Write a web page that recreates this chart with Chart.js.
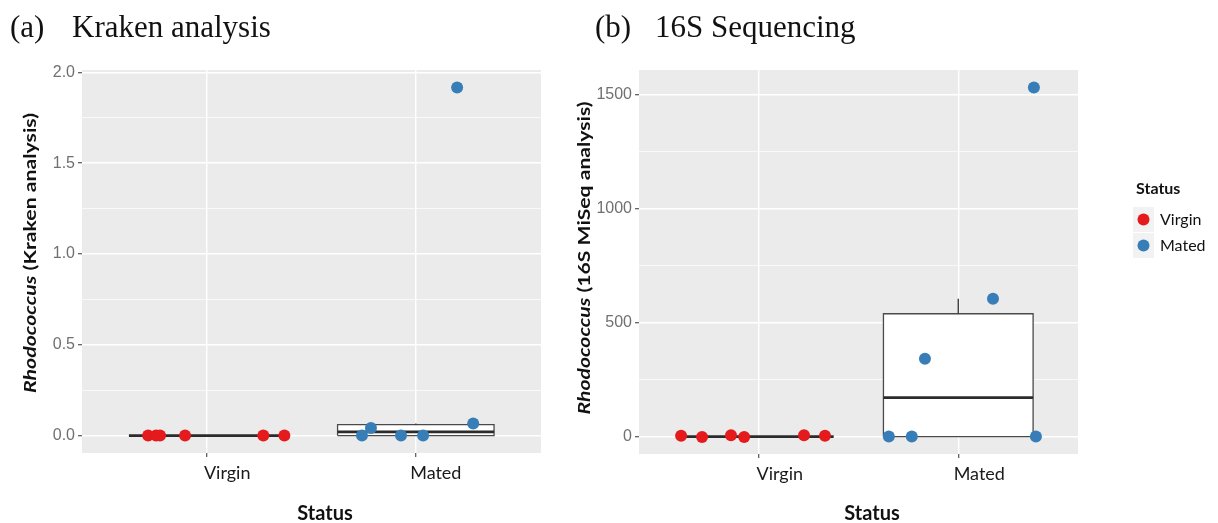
<!DOCTYPE html>
<html>
<head>
<meta charset="utf-8">
<script src="https://cdn.jsdelivr.net/npm/chart.js@4/dist/chart.umd.min.js"></script>
<style>
  html, body { margin: 0; padding: 0; background: #fff; }
  #page { position: relative; width: 1218px; height: 523px; overflow: hidden; background: #fff; }
  canvas { position: absolute; top: 0; }
  svg { position: absolute; left: 0; top: 0; }
</style>
</head>
<body>
<div id="page">
  <canvas id="kraken" width="560" height="523" style="left:0"></canvas>
  <canvas id="miseq" width="540" height="523" style="left:560px"></canvas>
  <svg width="1218" height="523" xmlns="http://www.w3.org/2000/svg">
    <g font-family="Liberation Serif" font-size="31" fill="#111">
      <text x="10" y="37">(a)</text>
      <text x="72" y="37">Kraken analysis</text>
      <text x="595" y="37">(b)</text>
      <text x="655" y="37">16S Sequencing</text>
    </g>
    <g font-family="Lato" font-weight="bold" font-size="17" fill="#111">
      <text transform="translate(29,253) rotate(-90)" text-anchor="middle" dominant-baseline="central"
            textLength="280" lengthAdjust="spacingAndGlyphs"><tspan font-style="italic">Rhodococcus</tspan> (Kraken analysis)</text>
      <text transform="translate(583,258) rotate(-90)" text-anchor="middle" dominant-baseline="central"
            textLength="313" lengthAdjust="spacingAndGlyphs"><tspan font-style="italic">Rhodococcus</tspan> (16S MiSeq analysis)</text>
    </g>
    <g font-family="Lato" font-weight="bold" font-size="20" fill="#111" text-anchor="middle">
      <text x="325" y="520">Status</text>
      <text x="872" y="520">Status</text>
    </g>
    <!-- legend -->
    <g font-family="Lato">
      <text x="1136" y="194" font-weight="bold" font-size="16" fill="#111">Status</text>
      <rect x="1133" y="207" width="21" height="25" fill="#f2f2f2"></rect>
      <rect x="1133" y="233" width="21" height="25" fill="#f2f2f2"></rect>
      <circle cx="1143.5" cy="219.5" r="6" fill="#E41A1C"></circle>
      <circle cx="1143.5" cy="245.5" r="6" fill="#377EB8"></circle>
      <text x="1160" y="225" font-size="16" fill="#111">Virgin</text>
      <text x="1160" y="251" font-size="16" fill="#111">Mated</text>
    </g>
  </svg>
</div>
<script>
// ---- data ----
const categories = ['Virgin', 'Mated'];
const statusColors = ['#E41A1C', '#377EB8'];

// (a) Kraken analysis
const krakenVirgin = [0, 0, 0, 0, 0, 0];
const krakenMated = [0, 0.042, 0, 0, 1.917, 0.066];
// horizontal jitter of each point, in category units
const krakenVirginJitter = [-0.283, -0.245, -0.226, -0.106, 0.269, 0.370];
const krakenMatedJitter = [-0.258, -0.215, -0.071, 0.035, 0.198, 0.275];

// (b) 16S MiSeq analysis
const miseqVirgin = [0, 0, 0, 0, 0, 0];
const miseqMated = [0, 0, 341, 604, 1530, 0];
const miseqVirginJitter = [-0.389, -0.284, -0.139, -0.073, 0.227, 0.332];
const miseqVirginJitterY = [3, -1.5, 6, -1.5, 6, 3];
const miseqMatedJitter = [-0.348, -0.233, -0.167, 0.174, 0.379, 0.389];

const krakenTicks = [0, 0.5, 1.0, 1.5, 2.0];
const miseqTicks = [0, 500, 1000, 1500];

// ---- helpers ----
function quantile(sorted, p) {
  const h = (sorted.length - 1) * p;
  const lo = Math.floor(h), hi = Math.ceil(h);
  return sorted[lo] + (h - lo) * (sorted[hi] - sorted[lo]);
}
function boxStats(values) {
  const s = values.slice().sort((a, b) => a - b);
  const q1 = quantile(s, 0.25), q2 = quantile(s, 0.5), q3 = quantile(s, 0.75);
  const iqr = q3 - q1;
  const inside = s.filter(v => v >= q1 - 1.5 * iqr && v <= q3 + 1.5 * iqr);
  return { q1, q2, q3, lo: Math.min(...inside), hi: Math.max(...inside) };
}

const BOX_HALF = 0.375;
const lineDefaults = { showLine: true, pointRadius: 0, tension: 0, borderColor: '#333333', fill: false };

function boxDatasets(values, pos) {
  const b = boxStats(values);
  const l = pos - BOX_HALF, r = pos + BOX_HALF;
  return [
    Object.assign({}, lineDefaults, { data: [{ x: pos, y: b.q3 }, { x: pos, y: b.hi }], borderWidth: 1.3 }),
    Object.assign({}, lineDefaults, { data: [{ x: pos, y: b.lo }, { x: pos, y: b.q1 }], borderWidth: 1.3 }),
    Object.assign({}, lineDefaults, { data: [{ x: l, y: b.q2 }, { x: r, y: b.q2 }], borderWidth: 2.8, borderColor: '#2b2b2b' }),
    Object.assign({}, lineDefaults, {
      data: [{ x: l, y: b.q1 }, { x: r, y: b.q1 }, { x: r, y: b.q3 }, { x: l, y: b.q3 }, { x: l, y: b.q1 }],
      borderWidth: 1.3, borderColor: '#4a4a4a', backgroundColor: '#ffffff', fill: 'shape'
    })
  ];
}

function pointDataset(values, pos, jitterX, jitterY, color) {
  return {
    data: values.map((v, i) => ({ x: pos + jitterX[i], y: v + (jitterY ? jitterY[i] : 0) })),
    pointRadius: 6, pointHoverRadius: 6, pointBackgroundColor: color, pointBorderWidth: 0,
    borderWidth: 0, showLine: false
  };
}

// panel background, like a ggplot grey theme
const panelBg = {
  id: 'panelBg',
  beforeDraw(chart) {
    const a = chart.chartArea, ctx = chart.ctx;
    ctx.save();
    ctx.fillStyle = '#EBEBEB';
    ctx.fillRect(a.left, a.top, a.right - a.left, a.bottom - a.top);
    ctx.restore();
  }
};

function makeChart(id, groups, majorTicks, fmt, pad, yWidth, xHeight, labelOffset) {
  const all = groups.flatMap(g => g.values);
  const lo = Math.min(...all), hi = Math.max(...all);
  const span = hi - lo;
  const minorStep = (majorTicks[1] - majorTicks[0]) / 2;
  const tickVals = [];
  for (let v = majorTicks[0]; v <= majorTicks[majorTicks.length - 1] + 1e-9; v += minorStep) tickVals.push(+v.toFixed(6));
  const isMajor = v => majorTicks.some(m => Math.abs(m - v) < 1e-9);

  const datasets = [];
  groups.forEach(g => datasets.push(pointDataset(g.values, g.pos, g.jitter, g.jitterY, g.color)));
  groups.forEach(g => datasets.push(...boxDatasets(g.values, g.pos)));

  return new Chart(document.getElementById(id), {
    type: 'scatter',
    data: { datasets },
    plugins: [panelBg],
    options: {
      responsive: false,
      animation: false,
      devicePixelRatio: 1,
      layout: { padding: pad },
      plugins: { legend: { display: false }, tooltip: { enabled: false } },
      scales: {
        x: {
          type: 'linear', min: 0.4, max: 2.6,
          afterBuildTicks: s => { s.ticks = categories.map((c, i) => ({ value: i + 1 })); },
          afterFit: s => { s.height = xHeight; },
          ticks: {
            autoSkip: false, maxRotation: 0, padding: 5, labelOffset: labelOffset,
            callback: v => categories[Math.round(v) - 1],
            font: { family: 'Lato', size: 18 }, color: '#1a1a1a'
          },
          grid: { color: '#ffffff', lineWidth: 1.4, tickLength: 4, tickColor: '#555555', tickWidth: 1.2 },
          border: { display: false }
        },
        y: {
          type: 'linear', min: lo - 0.05 * span, max: hi + 0.05 * span,
          afterBuildTicks: s => { s.ticks = tickVals.map(v => ({ value: v })); },
          afterFit: s => { s.width = yWidth; },
          ticks: {
            autoSkip: false, padding: 3,
            callback: v => isMajor(v) ? fmt(v) : '',
            font: { family: 'Liberation Sans', size: 16 }, color: '#707070'
          },
          grid: {
            color: '#ffffff',
            lineWidth: c => isMajor(c.tick.value) ? 1.4 : 0.7,
            tickLength: 4,
            tickColor: c => isMajor(c.tick.value) ? '#555555' : 'rgba(0,0,0,0)',
            tickWidth: 1.2
          },
          border: { display: false }
        }
      }
    }
  });
}

makeChart('kraken', [
  { values: krakenVirgin, pos: 1, jitter: krakenVirginJitter, color: statusColors[0] },
  { values: krakenMated, pos: 2, jitter: krakenMatedJitter, color: statusColors[1] }
], krakenTicks, v => v.toFixed(1), { top: 70, right: 19, left: 0, bottom: 0 }, 82, 70, 20);

makeChart('miseq', [
  { values: miseqVirgin, pos: 1, jitter: miseqVirginJitter, jitterY: miseqVirginJitterY, color: statusColors[0] },
  { values: miseqMated, pos: 2, jitter: miseqMatedJitter, color: statusColors[1] }
], miseqTicks, v => String(Math.round(v)), { top: 70, right: 22, left: 0, bottom: 0 }, 79, 69, 21);
</script>
</body>
</html>
